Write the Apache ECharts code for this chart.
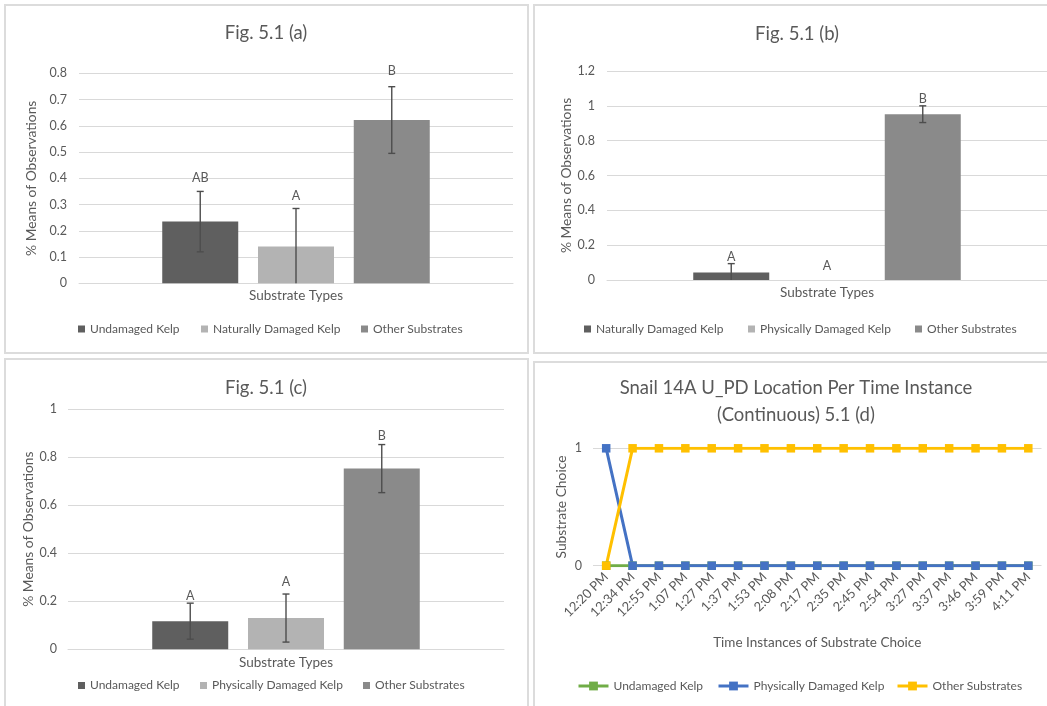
<!DOCTYPE html>
<html>
<head>
<meta charset="utf-8">
<title>Fig. 5.1 – Substrate choice</title>
<script src="https://cdn.jsdelivr.net/npm/echarts@6.0.0/dist/echarts.min.js"></script>
<style>
  html, body { margin: 0; padding: 0; background: #ffffff; }
  body { width: 1047px; height: 706px; overflow: hidden; position: relative; }
  .frame { position: absolute; box-sizing: border-box; border: 2px solid #dcdcdc; }
  .layer { position: absolute; left: 0; top: 0; width: 1047px; height: 706px; }
</style>
</head>
<body>
<div class="frame" style="left:4px;top:4px;width:525px;height:350px"></div>
<div class="frame" style="left:533px;top:4px;width:600px;height:350px"></div>
<div class="frame" style="left:4px;top:358px;width:525px;height:400px"></div>
<div class="frame" style="left:533px;top:361px;width:600px;height:400px"></div>
<div id="chartA" class="layer"></div>
<div id="chartB" class="layer"></div>
<div id="chartC" class="layer"></div>
<div id="chartD" class="layer"></div>
<script>
// ---- Fig. 5.1 (a) ----
const seriesA = ['Undamaged Kelp', 'Naturally Damaged Kelp', 'Other Substrates'];
const meansA = [0.235, 0.14, 0.622];
const errorsA = [0.115, 0.145, 0.127];
const lettersA = ['AB', 'A', 'B'];

// ---- Fig. 5.1 (b) ----
const seriesB = ['Naturally Damaged Kelp', 'Physically Damaged Kelp', 'Other Substrates'];
const meansB = [0.043, 0, 0.952];
const errorsB = [0.051, 0, 0.048];
const lettersB = ['A', 'A', 'B'];

// ---- Fig. 5.1 (c) ----
const seriesC = ['Undamaged Kelp', 'Physically Damaged Kelp', 'Other Substrates'];
const meansC = [0.117, 0.13, 0.752];
const errorsC = [0.075, 0.1, 0.1];
const lettersC = ['A', 'A', 'B'];

// ---- 5.1 (d): snail 14A location over time ----
const times = ['12:20 PM', '12:34 PM', '12:55 PM', '1:07 PM', '1:27 PM', '1:37 PM', '1:53 PM',
  '2:08 PM', '2:17 PM', '2:35 PM', '2:45 PM', '2:54 PM', '3:27 PM', '3:37 PM', '3:46 PM',
  '3:59 PM', '4:11 PM'];
const undamagedD = [0, 0, 0, 0, 0, 0, 0, 0, 0, 0, 0, 0, 0, 0, 0, 0, 0];
const physicalD  = [1, 0, 0, 0, 0, 0, 0, 0, 0, 0, 0, 0, 0, 0, 0, 0, 0];
const otherD     = [0, 1, 1, 1, 1, 1, 1, 1, 1, 1, 1, 1, 1, 1, 1, 1, 1];
const seriesD = ['Undamaged Kelp', 'Physically Damaged Kelp', 'Other Substrates'];

// ---- shared styling ----
const FONT = 'Lato';
const TXT = '#595959';
const GRID_LINE = '#d9d9d9';
const BAR_COLORS = ['#5f5f5f', '#b3b3b3', '#8a8a8a'];
const LINE_COLORS = ['#70ad47', '#4472c4', '#ffc000'];
const ERR_COLOR = '#4d4d4d';
const BAR_W = 76;
const GAP_RATIO = 0.26;

function makeChart(id) {
  return echarts.init(document.getElementById(id), null, { renderer: 'canvas', width: 1047, height: 706 });
}

function titleOf(text, cx, top, lineHeight) {
  return {
    text: text, left: cx, top: top, textAlign: 'center', padding: 0,
    textStyle: { fontFamily: FONT, fontSize: 18.5, fontWeight: 'normal', color: TXT, lineHeight: lineHeight || 22 }
  };
}

function legendsOf(names, xs, top, w, h) {
  return names.map((n, i) => ({
    data: [n], left: xs[i], top: top, itemWidth: w, itemHeight: h, padding: 0,
    icon: w > h ? undefined : 'rect',
    lineStyle: { width: 3 },
    textStyle: { fontFamily: FONT, fontSize: 12, color: TXT }, selectedMode: false
  }));
}

// Clustered bar panel with error bars and significance letters
function barPanel(id, p) {
  const chart = makeChart(id);
  const series = p.names.map((n, i) => ({
    type: 'bar', name: n, data: [p.means[i]], barWidth: BAR_W, barGap: (GAP_RATIO * 100) + '%',
    itemStyle: { color: BAR_COLORS[i] }, silent: true
  }));
  series.push({
    type: 'custom', name: 'error', silent: true, z: 5,
    encode: { x: 0, y: 1 },
    data: p.means.map((m, i) => [0, m, p.errors[i], i]),
    renderItem: function (params, api) {
      const m = api.value(1), e = api.value(2), i = api.value(3);
      const cx = api.coord([0, 0])[0] + (i - 1) * BAR_W * (1 + GAP_RATIO);
      const top = api.coord([0, m + e])[1];
      const lowVal = Math.max(0, m - e);
      const bot = api.coord([0, lowVal])[1];
      const children = [];
      if (e > 0) {
        children.push({ type: 'line', shape: { x1: cx, y1: top, x2: cx, y2: bot },
          style: { stroke: ERR_COLOR, lineWidth: 1.4 } });
        children.push({ type: 'line', shape: { x1: cx - 3.5, y1: top, x2: cx + 3.5, y2: top },
          style: { stroke: ERR_COLOR, lineWidth: 1.4 } });
        if (m - e > 0) {
          children.push({ type: 'line', shape: { x1: cx - 3.5, y1: bot, x2: cx + 3.5, y2: bot },
            style: { stroke: ERR_COLOR, lineWidth: 1.4 } });
        }
      }
      children.push({ type: 'text', x: cx, y: top - p.lift[i],
        style: { text: p.letters[i], fill: TXT, font: '12.5px ' + FONT, align: 'center', verticalAlign: 'middle' } });
      return { type: 'group', children: children };
    }
  });
  chart.setOption({
    animation: false,
    backgroundColor: 'transparent',
    title: titleOf(p.title, p.titleX, p.titleTop),
    legend: legendsOf(p.names, p.legendX, p.legendTop, 7, 7),
    grid: p.grid,
    xAxis: {
      type: 'category', data: [''],
      axisLine: { show: true, lineStyle: { color: GRID_LINE, width: 1 } },
      axisTick: { show: false }, axisLabel: { show: false },
      name: 'Substrate Types', nameLocation: 'middle', nameGap: p.xNameGap,
      nameTextStyle: { fontFamily: FONT, fontSize: 13.5, color: TXT }
    },
    yAxis: {
      type: 'value', min: 0, max: p.max, interval: p.step,
      axisLine: { show: false }, axisTick: { show: false },
      axisLabel: { fontFamily: FONT, fontSize: 12.5, color: TXT, margin: p.labelMargin },
      splitLine: { lineStyle: { color: GRID_LINE, width: 1 } },
      name: '% Means of Observations', nameLocation: 'middle', nameRotate: 90, nameGap: p.yNameGap,
      nameTextStyle: { fontFamily: FONT, fontSize: 13.8, color: TXT }
    },
    series: series
  });
}

barPanel('chartA', {
  title: 'Fig. 5.1 (a)', titleX: 266, titleTop: 22,
  names: seriesA, means: meansA, errors: errorsA, letters: lettersA, lift: [13, 13, 15.5],
  max: 0.8, step: 0.1,
  grid: { left: 79, top: 73.3, width: 434, height: 210 },
  xNameGap: 5, yNameGap: 40, labelMargin: 12,
  legendX: [78, 201, 361], legendTop: 323
});

barPanel('chartB', {
  title: 'Fig. 5.1 (b)', titleX: 797, titleTop: 23,
  names: seriesB, means: meansB, errors: errorsB, letters: lettersB, lift: [7, 14, 7],
  max: 1.2, step: 0.2,
  grid: { left: 607, top: 71, width: 442, height: 209 },
  xNameGap: 5.5, yNameGap: 32.5, labelMargin: 12,
  legendX: [584, 748, 915], legendTop: 323
});

barPanel('chartC', {
  title: 'Fig. 5.1 (c)', titleX: 266, titleTop: 377,
  names: seriesC, means: meansC, errors: errorsC, letters: lettersC, lift: [7, 12, 9],
  max: 1, step: 0.2,
  grid: { left: 68, top: 409, width: 436, height: 240.3 },
  xNameGap: 6, yNameGap: 32.5, labelMargin: 11,
  legendX: [78, 200, 363], legendTop: 679.5
});

// Line panel (d)
(function () {
  const chart = makeChart('chartD');
  const values = [undamagedD, physicalD, otherD];
  chart.setOption({
    animation: false,
    backgroundColor: 'transparent',
    title: titleOf('Snail 14A U_PD Location Per Time Instance\n(Continuous) 5.1 (d)', 796, 375, 26.7),
    legend: legendsOf(seriesD, [577, 717, 896], 680, 30, 11),
    grid: { left: 593, top: 448.3, width: 448.5, height: 117.4 },
    xAxis: {
      type: 'category', data: times, boundaryGap: true,
      axisLine: { show: false }, axisTick: { show: false },
      axisLabel: { interval: 0, rotate: 45, fontFamily: FONT, fontSize: 13, color: TXT, margin: 9 },
      name: 'Time Instances of Substrate Choice', nameLocation: 'middle', nameGap: 70,
      nameTextStyle: { fontFamily: FONT, fontSize: 13.5, color: TXT }
    },
    yAxis: {
      type: 'value', min: 0, max: 1, interval: 1,
      axisLine: { show: false }, axisTick: { show: false },
      axisLabel: { fontFamily: FONT, fontSize: 12.5, color: TXT, margin: 11 },
      splitLine: { lineStyle: { color: GRID_LINE, width: 1 } },
      name: 'Substrate Choice', nameLocation: 'middle', nameRotate: 90, nameGap: 24,
      nameTextStyle: { fontFamily: FONT, fontSize: 13.8, color: TXT }
    },
    series: seriesD.map((n, i) => ({
      type: 'line', name: n, data: values[i], symbol: 'rect', symbolSize: 8.5,
      showAllSymbol: true, silent: true,
      lineStyle: { color: LINE_COLORS[i], width: 3 },
      itemStyle: { color: LINE_COLORS[i] }
    }))
  });
})();
</script>
</body>
</html>
